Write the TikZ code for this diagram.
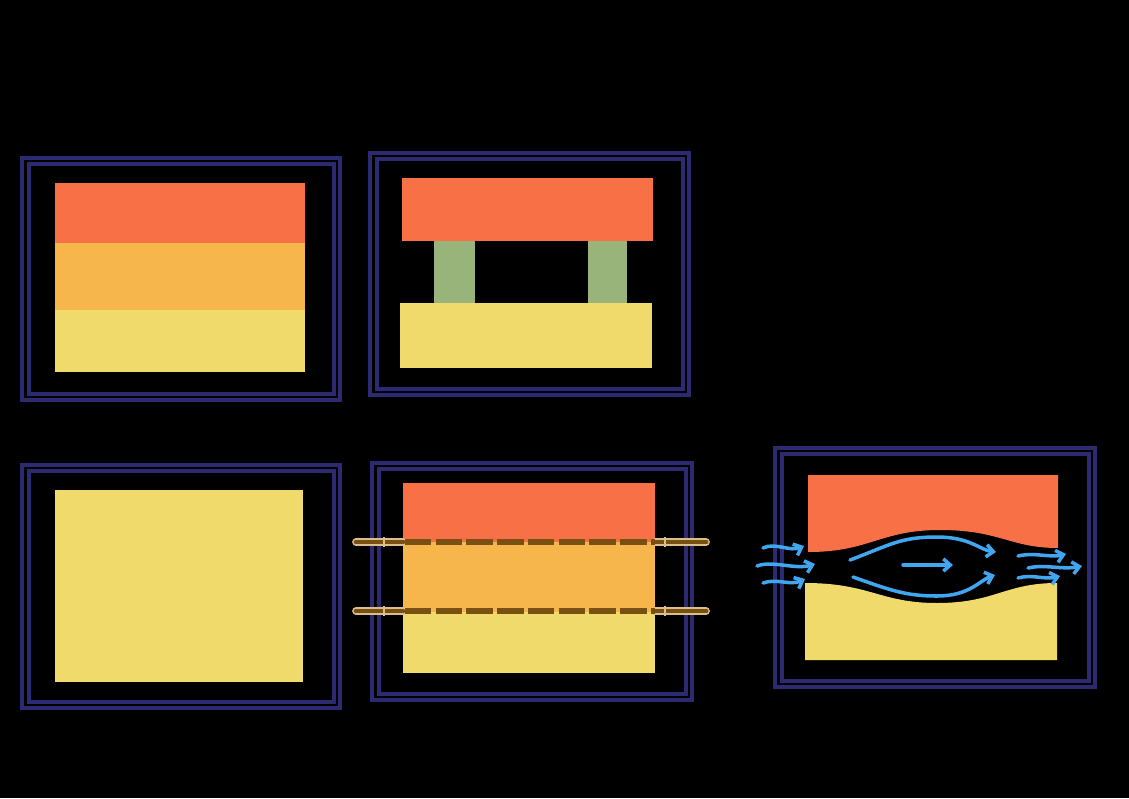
\documentclass[tikz,border=0pt]{standalone}
\usepackage{tikz}
\usetikzlibrary{arrows.meta}
\definecolor{frameNavy}{RGB}{44,42,112}
\definecolor{layerRed}{RGB}{248,112,70}
\definecolor{layerOrange}{RGB}{247,182,76}
\definecolor{layerYellow}{RGB}{240,218,108}
\definecolor{pillarGreen}{RGB}{152,180,122}
\definecolor{boltBrown}{RGB}{120,80,18}
\definecolor{boltTan}{RGB}{220,190,140}
\definecolor{flowBlue}{RGB}{64,166,240}
\tikzset{
  frame/.style={draw=frameNavy, line width=2.1pt},
  flow/.style={draw=flowBlue, line width=2pt, line cap=round, -{Straight Barb[length=4pt,width=7pt]}}
}

\begin{document}
\begin{tikzpicture}[x=0.02cm,y=-0.02cm]
\fill[black] (0,0) rectangle (1129,798);
\useasboundingbox (0,0) rectangle (1129,798);

% Frames
\draw[frame] (22,158) rectangle (340,400); \draw[frame] (29,164) rectangle (334,394);
\draw[frame] (370,153) rectangle (689,395); \draw[frame] (377,159) rectangle (683,389);
\draw[frame] (22,465) rectangle (340,708); \draw[frame] (29,471) rectangle (334,702);
\draw[frame] (372,463) rectangle (692,700); \draw[frame] (379,469) rectangle (686,694);
\draw[frame] (775,448) rectangle (1095,687); \draw[frame] (782,454) rectangle (1089,681);

% Panel 1: three layers
\fill[layerRed] (55,183) rectangle (305,243);
\fill[layerOrange] (55,243) rectangle (305,310);
\fill[layerYellow] (55,310) rectangle (305,372);

% Panel 2: top and bottom with pillars
\fill[layerRed] (402,178) rectangle (653,241);
\fill[pillarGreen] (434,241) rectangle (475,303);
\fill[pillarGreen] (588,241) rectangle (627,303);
\fill[layerYellow] (400,303) rectangle (652,368);

% Panel 3: single block
\fill[layerYellow] (55,490) rectangle (303,682);

% Panel 4: bolted layers
\fill[layerRed] (403,483) rectangle (655,542);
\fill[layerOrange] (403,542) rectangle (655,612);
\fill[layerYellow] (403,612) rectangle (655,673);
\foreach \y in {542,611} {
  \draw[boltTan, line width=4.4pt, line cap=round] (356,\y) -- (403,\y);
  \draw[boltBrown, line width=2.8pt, line cap=round] (356,\y) -- (403,\y);
  \draw[boltTan, line width=4.4pt, line cap=round] (655,\y) -- (706,\y);
  \draw[boltBrown, line width=2.8pt, line cap=round] (655,\y) -- (706,\y);
  \draw[boltBrown, line width=3pt, dash pattern=on 15pt off 2.5pt] (405,\y) -- (655,\y);
  \draw[boltTan, line width=1pt] (384,\y-5) -- (384,\y+5);
  \draw[boltTan, line width=1pt] (665,\y-5) -- (665,\y+5);
}

% Panel 5: flow between curved layers
\fill[layerRed] (808,475) -- (1058,475) -- (1058,548)
  .. controls (1010,548) and (1000,530) .. (940,530)
  .. controls (880,530) and (870,552) .. (808,552) -- cycle;
\fill[layerYellow] (805,583) .. controls (870,583) and (880,603) .. (937,603)
  .. controls (995,603) and (1005,583) .. (1057,583) -- (1057,660) -- (805,660) -- cycle;

% Flow arrows
\draw[flow] (763,548) .. controls (775,542) and (790,552) .. (804,546);
\draw[flow] (757,566) .. controls (772,560) and (795,570) .. (815,564);
\draw[flow] (763,583) .. controls (777,578) and (790,586) .. (805,579);
\draw[flow] (850,560) .. controls (890,545) and (900,537) .. (937,537) .. controls (970,537) and (980,550) .. (996,552);
\draw[flow] (853,577) .. controls (890,590) and (905,596) .. (937,596) .. controls (970,596) and (980,580) .. (995,575);
\draw[flow] (903,565) -- (953,565);
\draw[flow] (1018,556) .. controls (1035,552) and (1050,558) .. (1066,554);
\draw[flow] (1028,568) .. controls (1045,564) and (1062,570) .. (1082,566);
\draw[flow] (1018,578) .. controls (1032,574) and (1045,580) .. (1060,576);
\end{tikzpicture}
\end{document}
